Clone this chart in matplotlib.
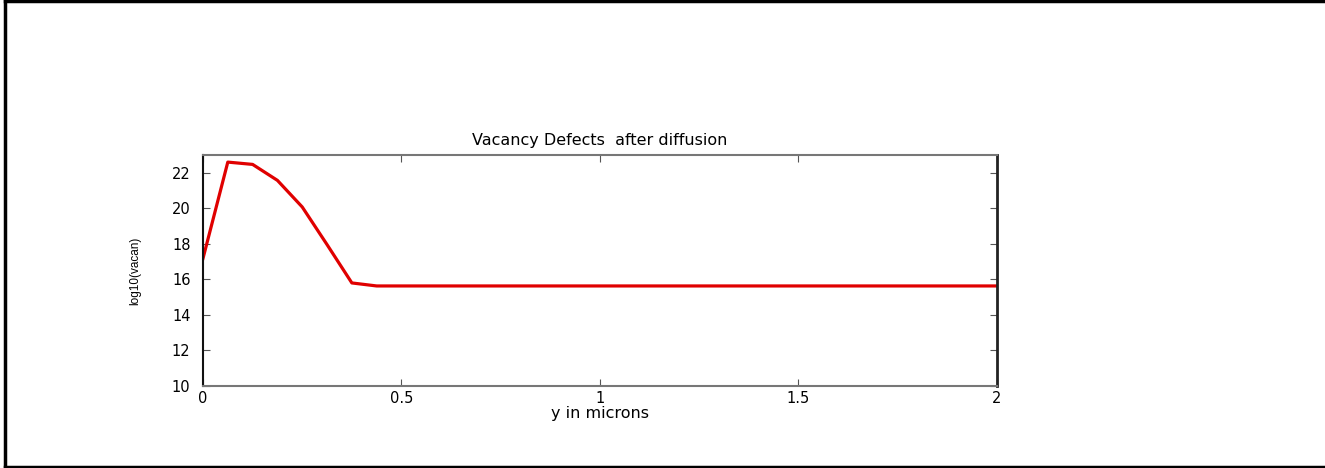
import matplotlib.pyplot as plt
from matplotlib.lines import Line2D

# depth (microns) and log10 vacancy concentration
y_microns = [0.0, 0.0625, 0.125, 0.1875, 0.25, 0.3125, 0.375, 0.4375, 2.0]
log_vacan = [17.17, 22.6, 22.47, 21.57, 20.07, 17.95, 15.79, 15.62, 15.62]

x_ticks = [0, 0.5, 1, 1.5, 2]
x_tick_labels = ['0', '0.5', '1', '1.5', '2']
y_ticks = [10, 12, 14, 16, 18, 20, 22]

# the original text is stretched sideways, DejaVu Sans is the widest fit
plt.rcParams['font.family'] = ['DejaVu Sans']

fig = plt.figure(figsize=(13.25, 4.68), dpi=100)
ax = fig.add_axes([0.1532, 0.1759, 0.5992, 0.4929])

ax.plot(y_microns, log_vacan, color='#e00000', linewidth=2.3, solid_joinstyle='round')

ax.set_xlim(0, 2)
ax.set_ylim(10, 23)
ax.set_xticks(x_ticks)
ax.set_xticklabels(x_tick_labels)
ax.set_yticks(y_ticks)
ax.tick_params(direction='in', top=True, right=True, length=5, width=0.8,
               labelsize=10.5, color='#555555')
ax.tick_params(axis='y', pad=9)
ax.tick_params(axis='x', pad=4)
for s in ['left', 'top', 'bottom']:
    ax.spines[s].set_color('#777777')
    ax.spines[s].set_linewidth(1.5)
ax.spines['right'].set_color('#222222')
ax.spines['right'].set_linewidth(2)
ax.spines['left'].set_color('#111111')

ax.set_title('Vacancy Defects  after diffusion', fontsize=11.5, pad=7)
ax.set_xlabel('y in microns', fontsize=11.5, labelpad=0)
ax.set_ylabel('log10(vacan)', fontsize=8.5, labelpad=22,
              family=['Liberation Sans', 'DejaVu Sans'])

# frame around the picture (left, top, bottom)
lw = 2.5
fig.add_artist(Line2D([0.004, 0.004], [0.003, 0.997], transform=fig.transFigure, color='black', linewidth=lw))
fig.add_artist(Line2D([0.004, 0.999], [0.997, 0.997], transform=fig.transFigure, color='black', linewidth=lw))
fig.add_artist(Line2D([0.004, 0.999], [0.003, 0.003], transform=fig.transFigure, color='black', linewidth=lw))

plt.savefig('out.png', dpi=100)
